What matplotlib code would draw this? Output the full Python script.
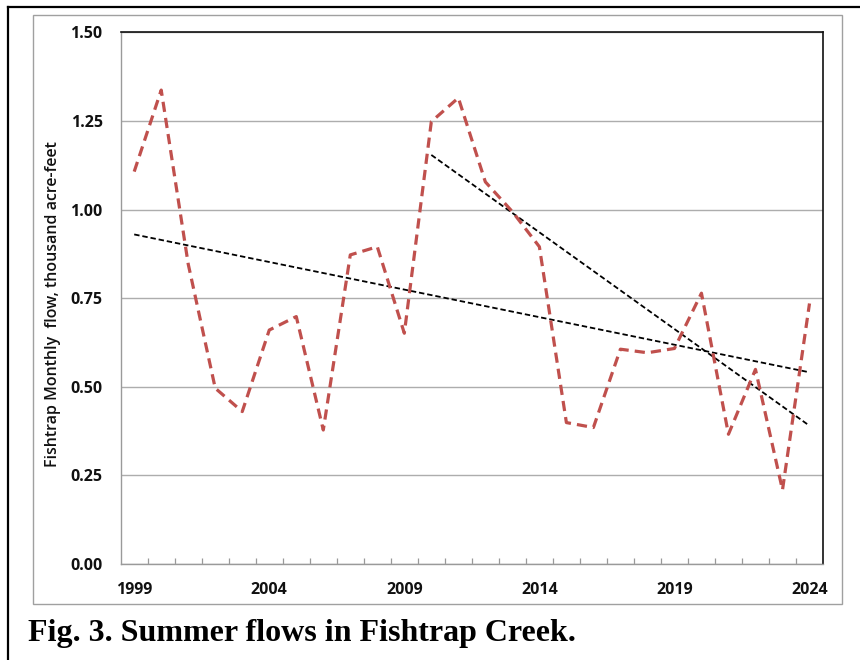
import numpy as np
import matplotlib
matplotlib.use("Agg")
import matplotlib.pyplot as plt
from matplotlib.lines import Line2D
from matplotlib.patches import Rectangle

# Summer (monthly) flow in Fishtrap Creek, thousand acre-feet
years = list(range(1999, 2025))
flow = [1.107, 1.337, 0.846, 0.496, 0.430, 0.660, 0.698, 0.378, 0.872, 0.895,
        0.651, 1.248, 1.315, 1.078, 0.994, 0.895, 0.399, 0.385, 0.606, 0.596,
        0.608, 0.764, 0.366, 0.549, 0.209, 0.735]

# Recent-period trend line (2010-2024), start and end values
recent_years = [2010, 2024]
recent_trend = [1.154, 0.390]

tick_years = [1999, 2004, 2009, 2014, 2019, 2024]
y_ticks = [0.00, 0.25, 0.50, 0.75, 1.00, 1.25, 1.50]

W, H = 860, 660
fig = plt.figure(figsize=(W / 100, H / 100), dpi=100)
ax = fig.add_axes([120.7 / W, 1 - 564 / H, (823 - 120.7) / W, (564 - 32.3) / H])

idx = np.arange(len(years))

# full-period linear trend
coef = np.polyfit(idx, flow, 1)
ax.plot([idx[0], idx[-1]], np.polyval(coef, [idx[0], idx[-1]]),
        color="black", lw=1.3, linestyle=(0, (3.0, 1.6)), zorder=3)

# recent-period trend
r_idx = [years.index(y) for y in recent_years]
ax.plot(r_idx, recent_trend, color="black", lw=1.3,
        linestyle=(0, (3.0, 1.6)), zorder=3)

ax.plot(idx, flow, color="#C0504D", lw=2.3, linestyle=(0, (3.2, 1.9)),
        zorder=4)

ax.set_xlim(-0.5, len(years) - 0.5)
ax.set_ylim(0, 1.5)

ax.set_yticks(y_ticks)
ax.set_yticklabels([f"{v:.2f}" for v in y_ticks])
ax.set_xticks([years.index(y) for y in tick_years])
ax.set_xticklabels([str(y) for y in tick_years])
ax.set_xticks(np.arange(0.5, len(years) - 0.5, 1.0), minor=True)

for lab in ax.get_xticklabels() + ax.get_yticklabels():
    lab.set_fontfamily("Open Sans")
    lab.set_fontweight("bold")
    lab.set_fontsize(11.5)
    lab.set_color("#111111")

ax.tick_params(axis="x", which="major", length=0, pad=13)
ax.tick_params(axis="y", which="major", length=0, pad=13)
ax.tick_params(axis="x", which="minor", direction="in", length=4.5,
               width=0.9, color="#999999")
ax.tick_params(axis="y", which="minor", length=0)

ax.grid(axis="y", color="#ADADAD", lw=1.0)
ax.set_axisbelow(True)

for side in ("left", "bottom"):
    ax.spines[side].set_color("#9A9A9A")
    ax.spines[side].set_linewidth(1.0)
for side in ("top", "right"):
    ax.spines[side].set_color("#111111")
    ax.spines[side].set_linewidth(1.2)

ax.set_ylabel("Fishtrap Monthly  flow, thousand acre-feet",
              fontfamily="Open Sans", fontweight="semibold", fontsize=11.5,
              color="#111111")
ax.yaxis.set_label_coords(61 / W, 1 - 304 / H, transform=fig.transFigure)

# chart frame and outer border
fig.add_artist(Rectangle((33 / W, 1 - 604 / H), (842 - 33) / W, (604 - 15) / H,
                         transform=fig.transFigure, fill=False,
                         edgecolor="#A0A0A0", lw=1.0))
fig.add_artist(Line2D([7.5 / W, 7.5 / W], [0, 1 - 7 / H],
                      transform=fig.transFigure, color="black", lw=1.6))
fig.add_artist(Line2D([7.5 / W, 1.0], [1 - 7 / H, 1 - 7 / H],
                      transform=fig.transFigure, color="black", lw=1.6))

fig.text(28 / W, 1 - 641 / H, "Fig. 3. Summer flows in Fishtrap Creek.",
         fontfamily="Liberation Serif", fontweight="bold", fontsize=23,
         ha="left", va="baseline", color="black")

fig.savefig("out.png", dpi=100)
